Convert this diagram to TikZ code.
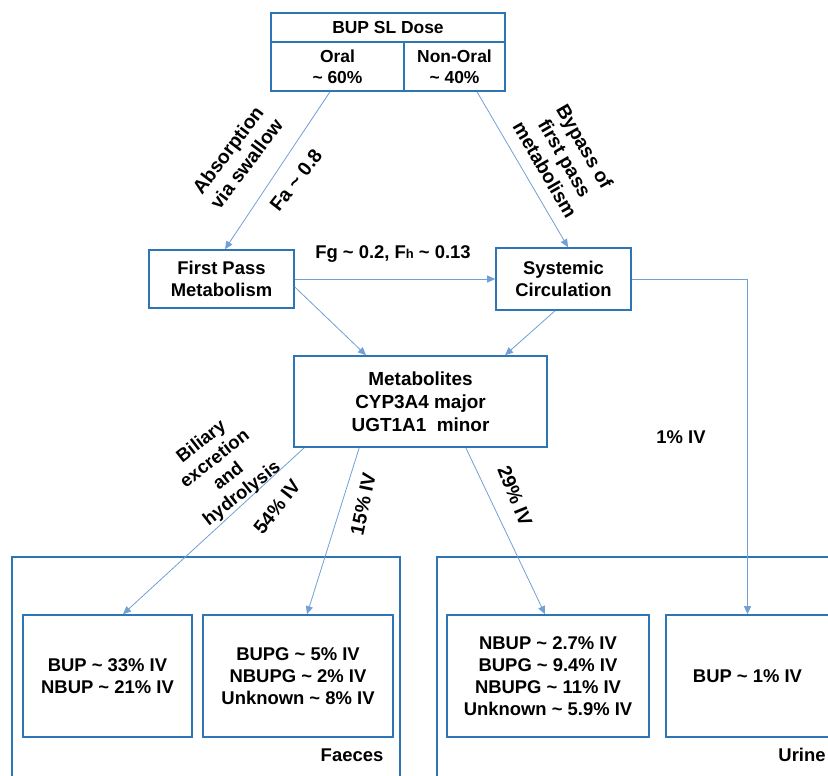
\documentclass[tikz,border=0pt]{standalone}
\usepackage{fontspec}
\setmainfont{Liberation Sans}
\usetikzlibrary{arrows.meta}
\definecolor{boxblue}{RGB}{46,117,182}
\definecolor{lineblue}{RGB}{112,160,214}
\newcommand{\apx}{\textasciitilde}
\newcommand{\smallsub}[1]{{\fontsize{13}{13}\selectfont #1}}
\begin{document}
\begin{tikzpicture}[x=1bp,y=-1bp,font=\bfseries\fontsize{18.5}{22}\selectfont]
        \useasboundingbox (0,0) rectangle (828,776);

        % outer groups
        \draw[boxblue,line width=1.2bp] (12,790) -- (12,557) -- (400,557) -- (400,790);
        \draw[boxblue,line width=1.2bp] (437,790) -- (437,557) -- (840,557);
        \node (faeces) at (352,755) {Faeces};
        \node (urine)  at (802,755) {Urine};

        \begin{scope}[every node/.style={draw=boxblue,line width=1.6bp,inner sep=0pt,align=center}]
          \node[minimum width=234bp,minimum height=29bp,font=\bfseries\fontsize{17.5}{21}\selectfont] (dose) at (388,27.5) {BUP SL Dose};
          \node[minimum width=133bp,minimum height=49bp,font=\bfseries\fontsize{17.5}{21}\selectfont] (oral) at (337.5,66.5) {Oral\\\apx{} 60\%};
          \node[minimum width=101bp,minimum height=49bp,font=\bfseries\fontsize{17.5}{21}\selectfont] (nonoral) at (454.5,66.5) {Non-Oral\\\apx{} 40\%};
          \node[minimum width=145bp,minimum height=58bp] (fpm) at (221.5,279) {First Pass\\Metabolism};
          \node[minimum width=135bp,minimum height=62bp] (sys) at (563.5,279) {Systemic\\Circulation};
          \node[minimum width=253bp,minimum height=91bp,font=\bfseries\fontsize{19}{23}\selectfont] (met) at (420.5,401.5) {Metabolites\\CYP3A4 major\\UGT1A1\ \ minor};
          \node[minimum width=169bp,minimum height=122bp] (bupA) at (107.5,676) {BUP \apx{} 33\% IV\\NBUP \apx{} 21\% IV};
          \node[minimum width=190bp,minimum height=122bp] (bupg) at (298,676) {BUPG \apx{} 5\% IV\\NBUPG \apx{} 2\% IV\\Unknown \apx{} 8\% IV};
          \node[minimum width=202bp,minimum height=122bp] (nbup) at (548,676) {NBUP \apx{} 2.7\% IV\\BUPG \apx{} 9.4\% IV\\NBUPG \apx{} 11\% IV\\Unknown \apx{} 5.9\% IV};
          \node[minimum width=163bp,minimum height=122bp] (bupB) at (747.5,676) {BUP \apx{} 1\% IV};
        \end{scope}

        \begin{scope}[every edge/.style={draw=lineblue,line width=0.8bp,-{Triangle[length=8bp,width=7bp]}}]
          \path ([xshift=-7.5bp]oral.south) edge ([xshift=3.5bp]fpm.north);
          \path ([xshift=22.5bp]nonoral.south) edge ([xshift=4.5bp]sys.north);
          \path (fpm.east) edge (sys.west);
          \path ([yshift=-8bp]fpm.east) edge ([xshift=-54.5bp]met.north);
          \path ([xshift=-8.5bp]sys.south) edge ([xshift=84.5bp]met.north);
          \path ([xshift=11bp]met.south west) edge ([xshift=15.5bp]bupA.north);
          \path ([xshift=66bp]met.south west) edge ([xshift=9bp]bupg.north);
          \path ([xshift=-82bp]met.south east) edge ([xshift=-3bp]nbup.north);
        \end{scope}
        \draw[draw=lineblue,line width=0.8bp,-{Triangle[length=8bp,width=7bp]}] (sys.east) -| (bupB.north);

        % labels on the connectors
        \begin{scope}[every node/.style={align=center,font=\bfseries\fontsize{19.5}{23}\selectfont}]
          \node[rotate=53] (absorb) at (237,157) {Absorption\\via swallow};
          \node[rotate=52] (fa) at (296,180) {Fa \apx{} 0.8};
          \node[rotate=-60] (bypass) at (565,158) {Bypass of\\first pass\\metabolism};
          \node[font=\bfseries\fontsize{18.5}{22}\selectfont] (fgfh) at (393,254) {Fg \apx{} 0.2, F\smallsub{h} \apx{} 0.13};
          \node[rotate=38,font=\bfseries\fontsize{18.5}{22}\selectfont] (biliary) at (222,468) {Biliary\\excretion\\and\\hydrolysis};
          \node[rotate=52] (p54) at (277,507) {54\% IV};
          \node[rotate=78] (p15) at (363,504) {15\% IV};
          \node[rotate=-68] (p29) at (515,496) {29\% IV};
          \node[font=\bfseries\fontsize{18.5}{22}\selectfont] (p1) at (681,437) {1\% IV};
        \end{scope}

      \end{tikzpicture}
\end{document}
